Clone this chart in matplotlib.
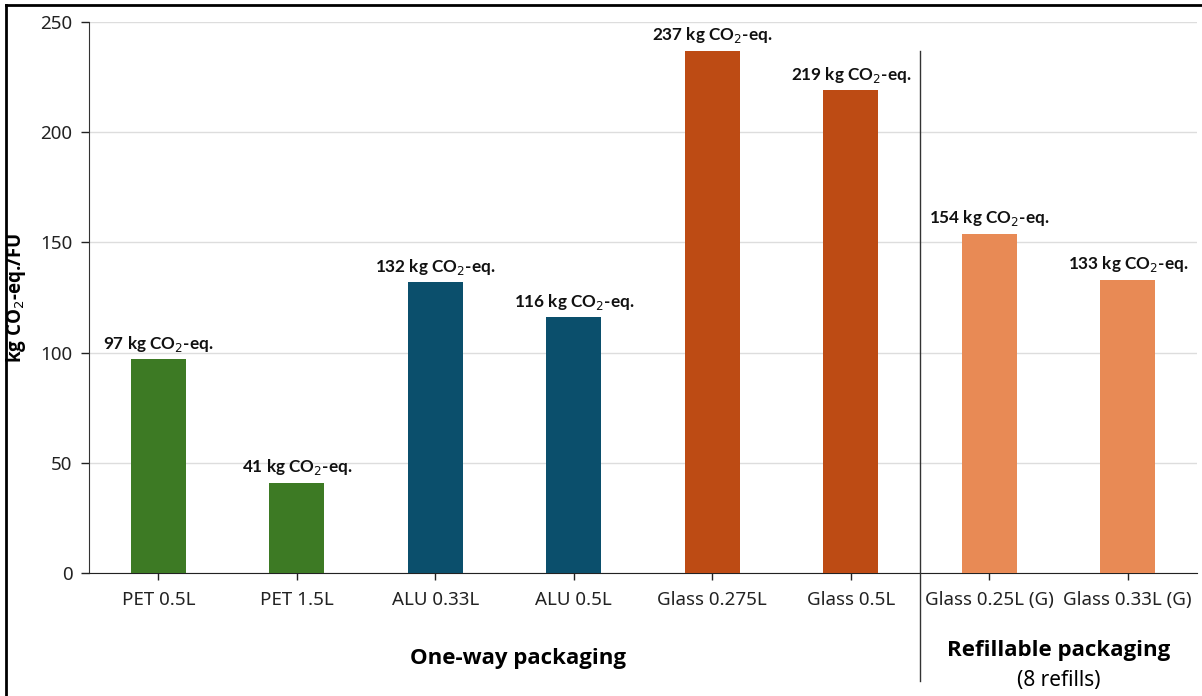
import matplotlib
matplotlib.use("Agg")
import matplotlib.pyplot as plt
from matplotlib.lines import Line2D

categories = ["PET 0.5L", "PET 1.5L", "ALU 0.33L", "ALU 0.5L",
              "Glass 0.275L", "Glass 0.5L", "Glass 0.25L (G)", "Glass 0.33L (G)"]
values = [97, 41, 132, 116, 237, 219, 154, 133]
colors = ["#3D7A24", "#3D7A24", "#0B4F6C", "#0B4F6C",
          "#BD4B14", "#BD4B14", "#E88A55", "#E88A55"]
yticks = [0, 50, 100, 150, 200, 250]
group_one = "One-way packaging"
group_two = "Refillable packaging"
group_two_sub = "(8 refills)"

plt.rcParams['font.family'] = ['Noto Sans', 'DejaVu Sans']
BOLD = ['Open Sans', 'DejaVu Sans']

W, H = 1202, 696
fig = plt.figure(figsize=(W / 100, H / 100), dpi=100)
ax = fig.add_axes([89 / W, 1 - 573 / H, (1197 - 89) / W, (573 - 22) / H])

x = list(range(len(categories)))
ax.bar(x, values, width=0.4, color=colors, zorder=3)
ax.set_xlim(-0.5, len(categories) - 0.5)
ax.set_ylim(0, 250)
ax.set_yticks(yticks)
ax.set_xticks(x)
ax.set_xticklabels(categories, fontsize=13.5, color="#222222")
ax.tick_params(axis='y', labelsize=13.5, labelcolor="#222222", length=6, width=1, color="#222222", pad=6)
ax.tick_params(axis='x', length=5, width=1, color="#222222", pad=8)
ax.grid(axis='y', color="#DDDDDD", linewidth=1, zorder=0)
for s in ["top", "right"]:
    ax.spines[s].set_visible(False)
ax.spines["left"].set_color("#333333")
ax.spines["bottom"].set_color("#222222")

for xi, v in zip(x, values):
    ax.annotate(f"{v} kg CO$_2$-eq.", (xi, v), xytext=(0, 4), textcoords="offset points",
                ha="center", va="bottom", fontsize=12.3, fontweight="bold", family="Lato",
                color="#111111")

ax.set_ylabel("kg CO$_2$-eq./FU", fontsize=13.5, fontweight="bold", family=BOLD)
ax.yaxis.set_label_coords(-61 / (1197 - 89), 0.5)

# separator line
ax.add_line(Line2D([5.5, 5.5], [237, -49], color="#333333", linewidth=1, clip_on=False, zorder=4))

# group labels
ax.text(2.6, -39, group_one, ha="center", va="center", fontsize=16, fontweight="bold", family=BOLD)
ax.text(6.5, -35, group_two, ha="center", va="center", fontsize=16, fontweight="bold", family=BOLD)
ax.text(6.5, -49, group_two_sub, ha="center", va="center", fontsize=15)

# figure frame (top and left edges)
fig.add_artist(Line2D([6 / W, 1], [1 - 5 / H, 1 - 5 / H], transform=fig.transFigure, color="black", linewidth=2))
fig.add_artist(Line2D([6 / W, 6 / W], [0, 1 - 5 / H], transform=fig.transFigure, color="black", linewidth=2))

fig.savefig("out.png", dpi=100)
